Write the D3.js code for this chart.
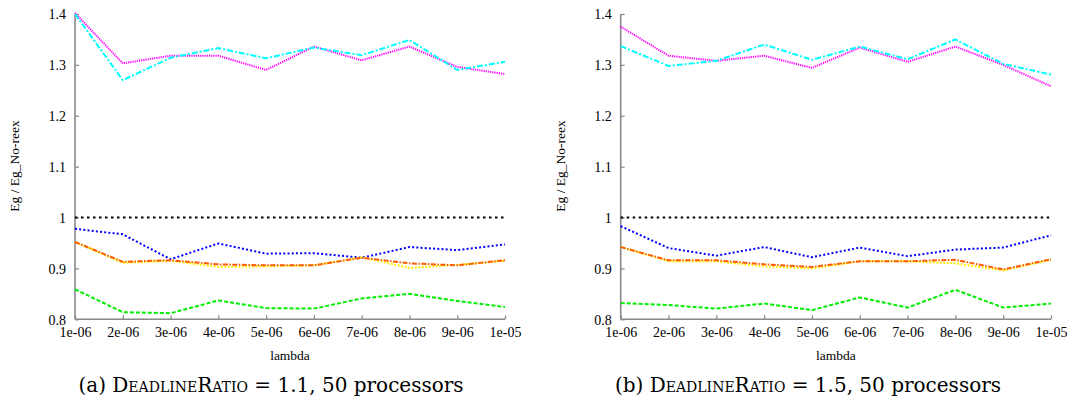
<!DOCTYPE html>
<html><head><meta charset="utf-8">
<script src="https://cdn.jsdelivr.net/npm/d3@7"></script>
<style>
body{margin:0;background:#fff;}
svg{display:block;}
text{font-family:"Liberation Serif","Times New Roman",serif;fill:#000;}
</style></head>
<body><svg id="c" width="1073" height="403"></svg>
<script>
const lambdas = ["1e-06","2e-06","3e-06","4e-06","5e-06","6e-06","7e-06","8e-06","9e-06","1e-05"];
const yTicks = [0.8,0.9,1,1.1,1.2,1.3,1.4];

// Panel (a) DeadlineRatio = 1.1
const a_magenta = [1.402,1.303,1.318,1.318,1.290,1.336,1.309,1.336,1.296,1.282];
const a_cyan    = [1.400,1.270,1.314,1.333,1.313,1.334,1.319,1.349,1.290,1.306];
const a_black   = [1,1,1,1,1,1,1,1,1,1];
const a_blue    = [0.978,0.967,0.918,0.949,0.929,0.930,0.921,0.942,0.936,0.947];
const a_orange  = [0.952,0.913,0.916,0.908,0.906,0.906,0.921,0.910,0.906,0.916];
const a_yellow  = [0.952,0.911,0.915,0.903,0.904,0.906,0.922,0.901,0.907,0.915];
const a_green   = [0.859,0.814,0.812,0.837,0.822,0.821,0.841,0.850,0.836,0.824];

// Panel (b) DeadlineRatio = 1.5
const b_magenta = [1.375,1.318,1.308,1.318,1.294,1.334,1.306,1.336,1.300,1.258];
const b_cyan    = [1.337,1.298,1.308,1.340,1.310,1.336,1.311,1.350,1.302,1.281];
const b_black   = [1,1,1,1,1,1,1,1,1,1];
const b_blue    = [0.983,0.940,0.925,0.942,0.922,0.941,0.924,0.937,0.941,0.965];
const b_orange  = [0.942,0.916,0.916,0.908,0.903,0.914,0.914,0.917,0.898,0.918];
const b_yellow  = [0.942,0.914,0.914,0.904,0.900,0.914,0.914,0.910,0.896,0.917];
const b_green   = [0.832,0.828,0.821,0.831,0.818,0.843,0.823,0.858,0.823,0.831];

const seriesStyles = [
  {key:"magenta", color:"#ff00ff", dash:"1.2,1"},
  {key:"cyan",    color:"#00ffff", dash:"6,2,2,2"},
  {key:"black",   color:"#000000", dash:"2.5,3.5"},
  {key:"blue",    color:"#0000ff", dash:"2,2.2"},
  {key:"yellow",  color:"#ffee00", dash:"2,1.5"},
  {key:"orange",  color:"#ff5a00", dash:"5,1.5,1.5,1.5"},
  {key:"green",   color:"#00ee00", dash:"4,2"}
];

const panels = [
  {x0:75, x1:505, label:"(a) ", ratio:"1.1", cap:271, data:{magenta:a_magenta,cyan:a_cyan,black:a_black,blue:a_blue,orange:a_orange,yellow:a_yellow,green:a_green}},
  {x0:620.7, x1:1051, label:"(b) ", ratio:"1.5", cap:808, data:{magenta:b_magenta,cyan:b_cyan,black:b_black,blue:b_blue,orange:b_orange,yellow:b_yellow,green:b_green}}
];

const svg = d3.select("#c");
const yTop = 14, yBot = 319.3;
const serif = "'Liberation Serif','Times New Roman',serif";

panels.forEach(p => {
  const g = svg.append("g");
  const x = d3.scalePoint().domain(lambdas).range([p.x0, p.x1]);
  const y = d3.scaleLinear().domain([0.8,1.4]).range([yBot, yTop]);

  const yAx = d3.axisLeft(y).tickValues(yTicks).tickSize(-4).tickPadding(9)
    .tickFormat(d => d3.format("")(+d.toFixed(1)));
  const gy = g.append("g").attr("transform",`translate(${p.x0},0)`).call(yAx);
  const xAx = d3.axisBottom(x).tickSize(-4).tickPadding(8);
  const gx = g.append("g").attr("transform",`translate(0,${yBot})`).call(xAx);
  [gx,gy].forEach(ax=>{
    ax.attr("font-family", serif).attr("font-size", 14);
    ax.select(".domain").attr("stroke","#888").attr("stroke-width",1.6);
    ax.selectAll(".tick line").attr("stroke","#888").attr("stroke-width",1.2);
    ax.selectAll(".tick text").style("font-family",serif).style("font-size","14px").attr("fill","#000");
  });
  gy.select(".domain").attr("d",`M0,${yBot}V${yTop}`);
  gx.select(".domain").attr("d",`M${p.x0},0H${p.x1}`);
  gy.selectAll(".tick text").attr("dy","0.35em");
  gx.selectAll(".tick text").attr("dy","0.71em");

  const line = d3.line().x((d,i)=>x(lambdas[i])).y(d=>y(d));
  seriesStyles.forEach(s => {
    g.append("path").datum(p.data[s.key])
      .attr("d", line).attr("fill","none")
      .attr("stroke", s.color).attr("stroke-width", 2)
      .attr("stroke-dasharray", s.dash);
  });

  g.append("text").attr("x",(p.x0+p.x1)/2).attr("y",360).attr("text-anchor","middle")
    .style("font-family",serif).style("font-size","13.5px").text("lambda");
  g.append("text").attr("transform",`translate(${p.x0-56},166) rotate(-90)`).attr("text-anchor","middle")
    .style("font-family",serif).style("font-size","13.5px").text("Eg / Eg_No-reex");

  const t = g.append("text").attr("x",p.cap).attr("y",392).attr("text-anchor","middle")
    .style("font-family","'DejaVu Serif',serif").style("font-size","20px");
  t.append("tspan").text(p.label);
  t.append("tspan").style("font-variant","small-caps").text("DeadlineRatio");
  t.append("tspan").text(` = ${p.ratio}, 50 processors`);
});
</script></body></html>
